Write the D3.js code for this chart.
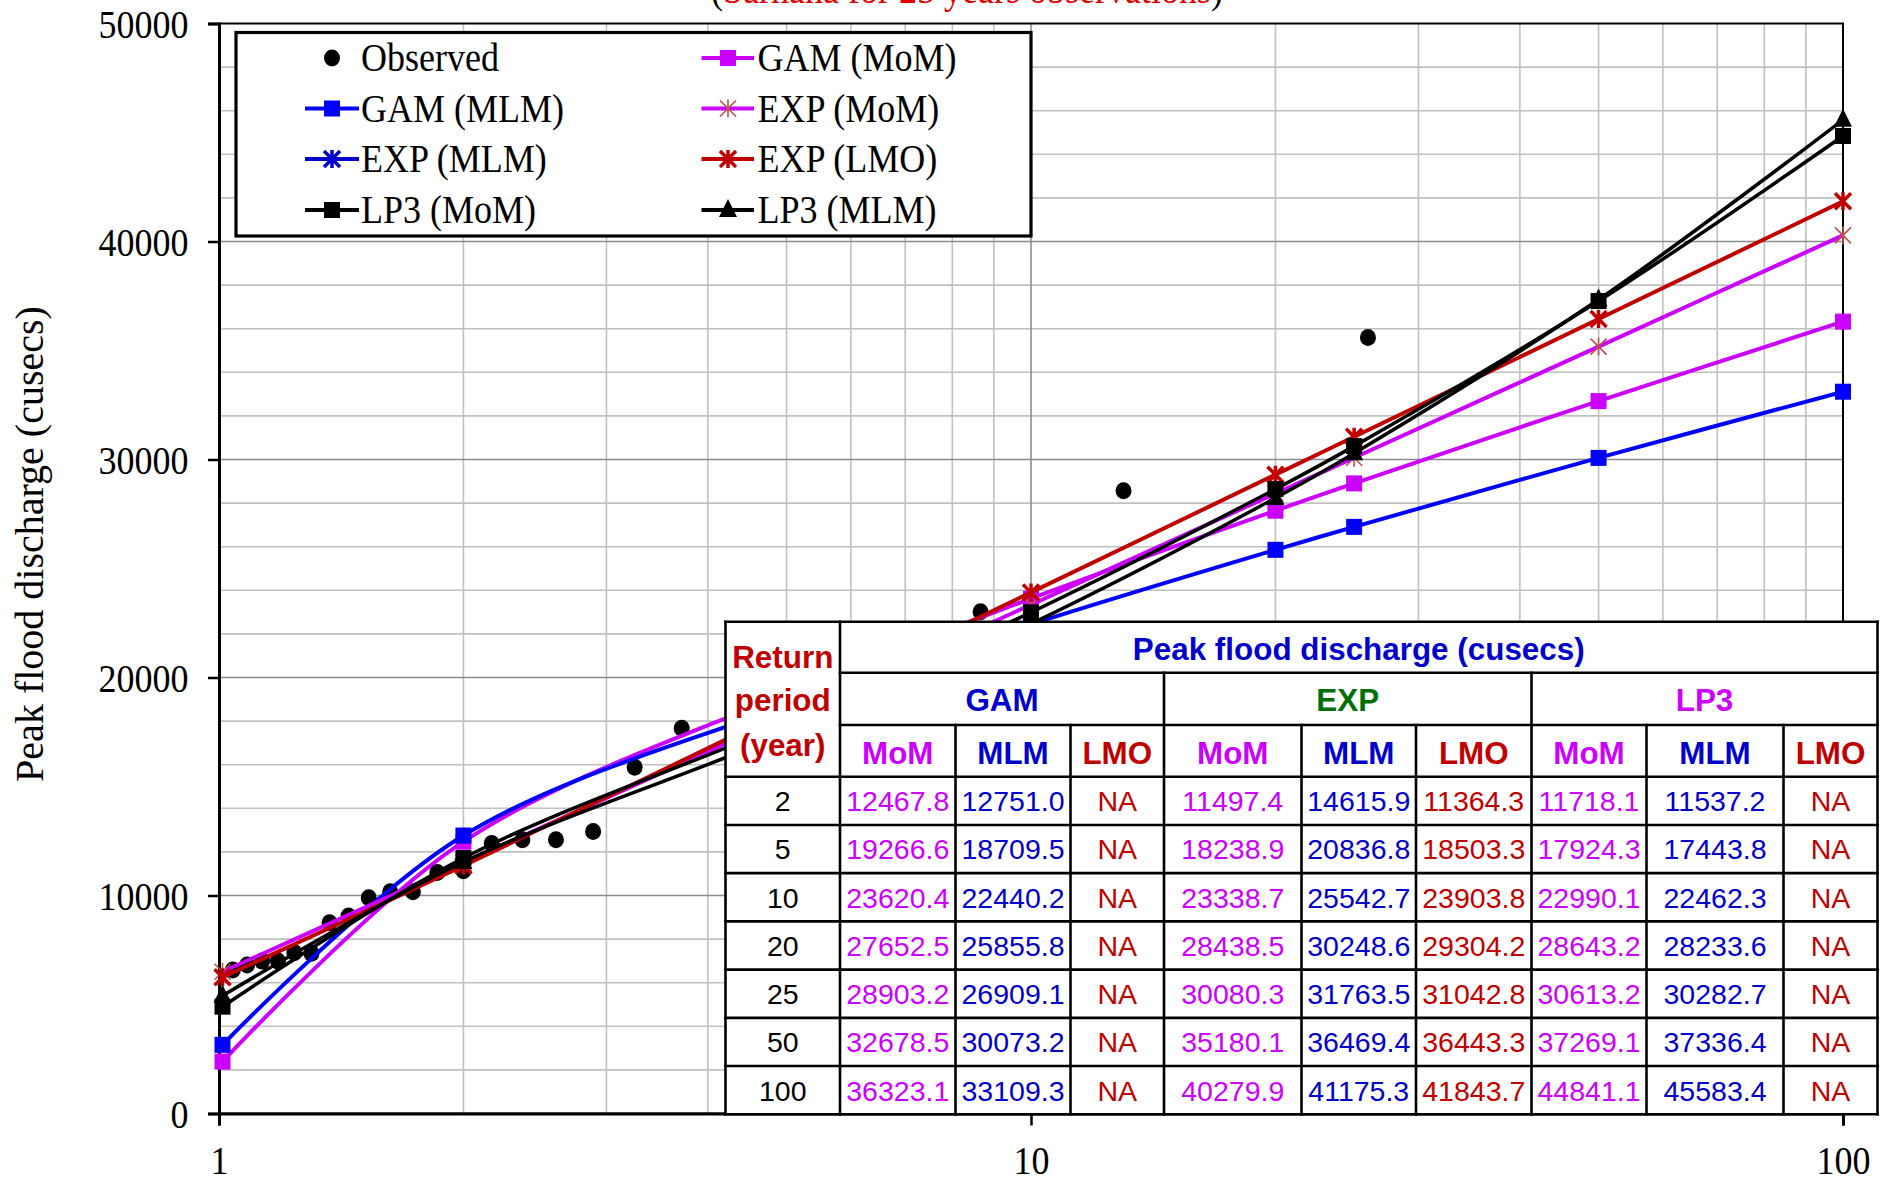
<!DOCTYPE html>
<html>
<head>
<meta charset="utf-8">
<script src="https://cdn.jsdelivr.net/npm/d3@7"></script>
<style>
  body { margin: 0; background: #ffffff; }
  svg { display: block; }
</style>
</head>
<body>
<svg id="chart" width="1884" height="1181"></svg>
<script>
// ---------- data ----------
const returnPeriods = [2, 5, 10, 20, 25, 50, 100];
const startPeriod = 1.01;

// Peak flood discharge (cusecs) at each return period
const gamMoM = [12467.8, 19266.6, 23620.4, 27652.5, 28903.2, 32678.5, 36323.1];
const gamMLM = [12751.0, 18709.5, 22440.2, 25855.8, 26909.1, 30073.2, 33109.3];
const expMoM = [11497.4, 18238.9, 23338.7, 28438.5, 30080.3, 35180.1, 40279.9];
const expMLM = [14615.9, 20836.8, 25542.7, 30248.6, 31763.5, 36469.4, 41175.3];
const expLMO = [11364.3, 18503.3, 23903.8, 29304.2, 31042.8, 36443.3, 41843.7];
const lp3MoM = [11718.1, 17924.3, 22990.1, 28643.2, 30613.2, 37269.1, 44841.1];
const lp3MLM = [11537.2, 17443.8, 22462.3, 28233.6, 30282.7, 37336.4, 45583.4];

// Curve values at the 1.01-year start of each plotted line
const gamMoMStart = 2380;
const gamMLMStart = 3150;
const expMoMStart = 6500;
const expLMOStart = 6250;
const lp3MoMStart = 4900;
const lp3MLMStart = 5400;

// Observed annual peaks: plotting-position return period and discharge
const observedT = [1.04, 1.083, 1.13, 1.182, 1.238, 1.3, 1.368, 1.444, 1.529, 1.625,
                   1.733, 1.857, 2.0, 2.167, 2.364, 2.6, 2.889, 3.25, 3.714, 8.667, 13, 26];
const observedQ = [6580, 6810, 6990, 6990, 7380, 7350, 8750, 9060, 9900, 10170,
                   10170, 11050, 11140, 12380, 12560, 12560, 12940, 15880, 17670, 23020, 28570, 35600];

const yTicks = [0, 10000, 20000, 30000, 40000, 50000];
const xTicks = [1, 10, 100];

const tableGroups = ["GAM", "EXP", "LP3"];
const tableMethods = ["MoM", "MLM", "LMO"];

// ---------- layout ----------
const svg = d3.select("#chart");
const L = 219, R = 1843, T = 23.5, B = 1113.5;
const serif = "'Times New Roman', 'Liberation Serif', serif";
const sans = "Arial, 'Liberation Sans', sans-serif";
const squeeze = 0.9;

const x = d3.scaleLog().domain([1, 100]).range([L, R]);
const y = d3.scaleLinear().domain([0, 50000]).range([B, T]);

// heading above the plot, running off the top edge
const head = svg.append("text")
  .attr("transform", `translate(967,2.5) scale(${squeeze},1)`)
  .attr("text-anchor", "middle")
  .attr("font-family", serif).attr("font-size", 40);
head.append("tspan").attr("fill", "#000").text("(");
head.append("tspan").attr("fill", "#e00000").text("Sarhana for 25 years observations");
head.append("tspan").attr("fill", "#000").text(")");

// ---------- grid ----------
const grid = svg.append("g");
const minorY = d3.range(2000, 50000, 2000).filter(v => v % 10000 !== 0);
const majorY = d3.range(10000, 50000, 10000);
const allX = x.ticks();
const minorX = allX.filter(v => !xTicks.includes(v));

grid.selectAll(".gy").data(minorY).join("line")
  .attr("x1", L).attr("x2", R).attr("y1", d => y(d)).attr("y2", d => y(d))
  .attr("stroke", "#c0c0c0").attr("stroke-width", 1.6);
grid.selectAll(".gx").data(minorX).join("line")
  .attr("x1", d => x(d)).attr("x2", d => x(d)).attr("y1", T).attr("y2", B)
  .attr("stroke", "#c0c0c0").attr("stroke-width", 1.6);
grid.selectAll(".gY").data(majorY).join("line")
  .attr("x1", L).attr("x2", R).attr("y1", d => y(d)).attr("y2", d => y(d))
  .attr("stroke", "#8c8c8c").attr("stroke-width", 1.6);
grid.append("line")
  .attr("x1", x(10)).attr("x2", x(10)).attr("y1", T).attr("y2", B)
  .attr("stroke", "#8c8c8c").attr("stroke-width", 1.6);

// plot frame
svg.append("rect").attr("x", L).attr("y", T).attr("width", R - L).attr("height", B - T)
  .attr("fill", "none").attr("stroke", "#000").attr("stroke-width", 2);

// ---------- axes ----------
const yAxis = svg.append("g").attr("transform", `translate(${L},0)`)
  .call(d3.axisLeft(y).tickValues(yTicks).tickSize(11).tickFormat(d3.format("d")));
yAxis.select(".domain").attr("stroke-width", 3);
yAxis.selectAll(".tick line").attr("stroke-width", 2.5);
yAxis.selectAll(".tick text")
  .attr("font-family", serif).attr("font-size", 40).attr("fill", "#000")
  .attr("x", null).attr("dy", null)
  .attr("transform", `translate(-30.5,13.5) scale(${squeeze},1)`);

const xAxis = svg.append("g").attr("transform", `translate(0,${B})`)
  .call(d3.axisBottom(x).tickValues(xTicks).tickSize(12).tickFormat(d3.format("d")));
xAxis.select(".domain").attr("stroke-width", 3);
xAxis.selectAll(".tick line").attr("stroke-width", 2.5);
xAxis.selectAll(".tick text")
  .attr("font-family", serif).attr("font-size", 40).attr("fill", "#000")
  .attr("y", null).attr("dy", null)
  .attr("transform", `translate(0,60) scale(${squeeze},1)`);

svg.append("text")
  .attr("transform", "translate(42.7,544) rotate(-90)")
  .attr("text-anchor", "middle")
  .attr("font-family", serif).attr("font-size", 40).attr("fill", "#000")
  .text("Peak flood discharge (cusecs)");

// ---------- markers ----------
function drawMarker(g, type, cx, cy, color) {
  if (type === "square") {
    g.append("rect").attr("x", cx - 8).attr("y", cy - 8).attr("width", 16).attr("height", 16)
      .attr("fill", color);
  } else if (type === "triangle") {
    g.append("path").attr("d", `M${cx},${cy - 11}L${cx + 9},${cy + 7}L${cx - 9},${cy + 7}Z`)
      .attr("fill", color);
  } else if (type === "star" || type === "starBold") {
    const s = 8;
    g.append("path")
      .attr("d", `M${cx - s},${cy - s}L${cx + s},${cy + s}M${cx - s},${cy + s}L${cx + s},${cy - s}M${cx},${cy - s - 1}L${cx},${cy + s + 1}`)
      .attr("fill", "none").attr("stroke", color).attr("stroke-width", type === "starBold" ? 3.5 : 1.6);
  } else if (type === "dot") {
    g.append("ellipse").attr("cx", cx).attr("cy", cy).attr("rx", 8).attr("ry", 8.5).attr("fill", color);
  }
}

// ---------- series ----------
const series = [
  { label: "GAM (MoM)", start: gamMoMStart, values: gamMoM, line: "#cc00ff", marker: "square", mcolor: "#cc00ff" },
  { label: "GAM (MLM)", start: gamMLMStart, values: gamMLM, line: "#0000ff", marker: "square", mcolor: "#0000ff" },
  { label: "EXP (MoM)", start: expMoMStart, values: expMoM, line: "#cc00ff", marker: "star", mcolor: "#c0504d" },
  { label: "EXP (LMO)", start: expLMOStart, values: expLMO, line: "#c00000", marker: "starBold", mcolor: "#c00000" },
  { label: "LP3 (MoM)", start: lp3MoMStart, values: lp3MoM, line: "#000000", marker: "square", mcolor: "#000000" },
  { label: "LP3 (MLM)", start: lp3MLMStart, values: lp3MLM, line: "#000000", marker: "triangle", mcolor: "#000000" }
];

const plot = svg.append("g");
// observed peaks
const obs = plot.append("g");
observedT.forEach((t, i) => drawMarker(obs, "dot", x(t), y(observedQ[i]), "#000"));

const lineGen = d3.line().x(d => x(d[0])).y(d => y(d[1])).curve(d3.curveCatmullRom.alpha(0.5));
series.forEach(s => {
  const pts = [[startPeriod, s.start]].concat(returnPeriods.map((t, i) => [t, s.values[i]]));
  const g = plot.append("g");
  g.append("path").attr("d", lineGen(pts)).attr("fill", "none")
    .attr("stroke", s.line).attr("stroke-width", s.line === "#000000" ? 3.5 : 4)
    .attr("stroke-linejoin", "round");
  pts.forEach(p => drawMarker(g, s.marker, x(p[0]), y(p[1]), s.mcolor));
});

// ---------- legend ----------
const leg = svg.append("g");
leg.append("rect").attr("x", 236).attr("y", 32.5).attr("width", 795).attr("height", 203.5)
  .attr("fill", "#fff").attr("stroke", "#000").attr("stroke-width", 3.2);
const legendItems = [
  { label: "Observed", col: 0, row: 0, line: null, marker: "dot", mcolor: "#000" },
  { label: "GAM (MLM)", col: 0, row: 1, line: "#0000ff", marker: "square", mcolor: "#0000ff" },
  { label: "EXP (MLM)", col: 0, row: 2, line: "#0000cc", marker: "starBold", mcolor: "#0000cc" },
  { label: "LP3 (MoM)", col: 0, row: 3, line: "#000000", marker: "square", mcolor: "#000" },
  { label: "GAM (MoM)", col: 1, row: 0, line: "#cc00ff", marker: "square", mcolor: "#cc00ff" },
  { label: "EXP (MoM)", col: 1, row: 1, line: "#cc00ff", marker: "star", mcolor: "#c0504d" },
  { label: "EXP (LMO)", col: 1, row: 2, line: "#c00000", marker: "starBold", mcolor: "#c00000" },
  { label: "LP3 (MLM)", col: 1, row: 3, line: "#000000", marker: "triangle", mcolor: "#000" }
];
const legCols = [{ x0: 305, x1: 359, mx: 332, tx: 361 }, { x0: 701.5, x1: 754, mx: 728, tx: 757.6 }];
const legRows = [58, 108.5, 159, 210];
legendItems.forEach(it => {
  const c = legCols[it.col], cy = legRows[it.row];
  if (it.line) {
    leg.append("line").attr("x1", c.x0).attr("x2", c.x1).attr("y1", cy).attr("y2", cy)
      .attr("stroke", it.line).attr("stroke-width", 4);
  }
  drawMarker(leg, it.marker, c.mx, cy, it.mcolor);
  leg.append("text")
    .attr("transform", `translate(${c.tx},${cy + 13}) scale(${squeeze},1)`)
    .attr("font-family", serif).attr("font-size", 40).attr("fill", "#000")
    .text(it.label);
});

// ---------- table ----------
const colEdges = [725.5, 840, 955.5, 1070.5, 1164, 1301.5, 1416, 1531.5, 1646.5, 1783.5, 1877.5];
const headEdges = [621.7, 672.7, 725, 776.7];
const rowH = (B + 0.8 - headEdges[3]) / returnPeriods.length;
const rowEdges = headEdges.concat(returnPeriods.map((_, i) => headEdges[3] + rowH * (i + 1)));
const tTop = rowEdges[0], tBot = rowEdges[rowEdges.length - 1];
const tL = colEdges[0], tR = colEdges[colEdges.length - 1];

const tbl = svg.append("g");
tbl.append("rect").attr("x", tL).attr("y", tTop).attr("width", tR - tL).attr("height", tBot - tTop)
  .attr("fill", "#fff");

const tLines = tbl.append("g").attr("stroke", "#000").attr("stroke-width", 2.6).attr("stroke-linecap", "square");
function hl(yy, x1, x2) { tLines.append("line").attr("x1", x1).attr("x2", x2).attr("y1", yy).attr("y2", yy); }
function vl(xx, y1, y2) { tLines.append("line").attr("x1", xx).attr("x2", xx).attr("y1", y1).attr("y2", y2); }
hl(tTop, tL, tR);
hl(headEdges[1], colEdges[1], tR);
hl(headEdges[2], colEdges[1], tR);
rowEdges.slice(3).forEach(r => hl(r, tL, tR));
vl(tL, tTop, tBot); vl(colEdges[1], tTop, tBot); vl(tR, tTop, tBot);
vl(colEdges[4], headEdges[1], tBot); vl(colEdges[7], headEdges[1], tBot);
[2, 3, 5, 6, 8, 9].forEach(i => vl(colEdges[i], headEdges[2], tBot));

function cellText(tx, ty, str, color, size, bold) {
  tbl.append("text").attr("x", tx).attr("y", ty).attr("text-anchor", "middle")
    .attr("font-family", sans).attr("font-size", size)
    .attr("font-weight", bold ? "bold" : "normal").attr("fill", color).text(str);
}
const colMid = i => (colEdges[i] + colEdges[i + 1]) / 2;

const cRed = "#c00000", cBlue = "#0000cc", cMag = "#cc00ff", cGreen = "#006e00";
cellText(colMid(0), 668.3, "Return", cRed, 31.4, true);
cellText(colMid(0), 710.9, "period", cRed, 31.4, true);
cellText(colMid(0), 755.5, "(year)", cRed, 31.4, true);
cellText((colEdges[1] + tR) / 2, 659.5, "Peak flood discharge (cusecs)", cBlue, 31.4, true);

const groupColors = [cBlue, cGreen, cMag];
const methodColors = [cMag, cBlue, cRed];
tableGroups.forEach((gname, gi) => {
  cellText((colEdges[1 + gi * 3] + colEdges[4 + gi * 3]) / 2, 711, gname, groupColors[gi], 31.4, true);
  tableMethods.forEach((m, mi) => cellText(colMid(1 + gi * 3 + mi), 763.5, m, methodColors[mi], 31.4, true));
});

const tableColumns = [gamMoM, gamMLM, null, expMoM, expMLM, expLMO, lp3MoM, lp3MLM, null];
returnPeriods.forEach((t, ri) => {
  const mid = (rowEdges[3 + ri] + rowEdges[4 + ri]) / 2;
  const by = mid + 10.4;
  cellText(colMid(0), by, String(t), "#000", 28.5, false);
  tableColumns.forEach((col, ci) => {
    const str = col ? col[ri].toFixed(1) : "NA";
    cellText(colMid(1 + ci), by, str, methodColors[ci % 3], 28.5, false);
  });
});
</script>
</body>
</html>
